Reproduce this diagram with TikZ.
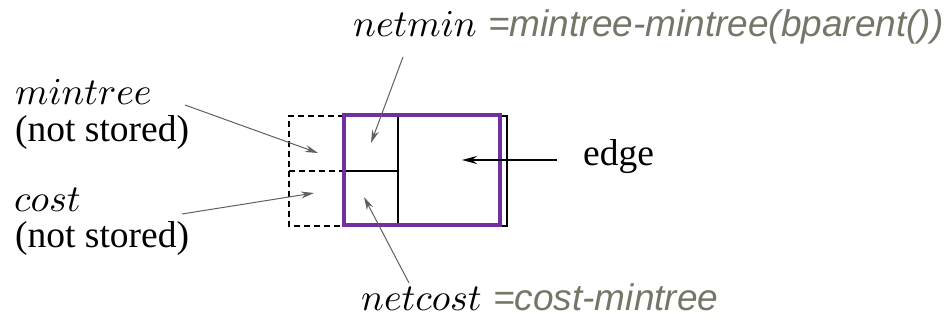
\documentclass[tikz,border=0pt]{standalone}
\usepackage{fontspec}
\DeclareFontShape{OML}{cmm}{m}{it}{<->cmmi10}{}
\newfontfamily\serifT{Liberation Serif}
\newfontfamily\sansA{Liberation Sans}
\usetikzlibrary{arrows.meta}
\definecolor{boxpurple}{RGB}{112,48,160}
\definecolor{notegray}{RGB}{118,118,104}
\definecolor{arrowgray}{RGB}{95,95,95}
\begin{document}
\begin{tikzpicture}[x=1pt,y=-1pt,
  lbl/.style={inner sep=0pt, anchor=base west, font=\fontsize{38}{45}\selectfont},
  serlbl/.style={lbl, font=\fontsize{37.5}{45}\selectfont\serifT},
  notelbl/.style={lbl, text=notegray, font=\fontsize{37}{44}\selectfont\sansA\itshape},
  garrow/.style={draw=arrowgray, line width=1pt, -{Stealth[length=13pt,width=7pt]}},
  barrow/.style={draw=black, line width=1.6pt, -{Stealth[length=15pt,width=8pt]}},
  cellline/.style={draw=black, line width=1.3pt},
  dashline/.style={draw=black, line width=1.4pt, dash pattern=on 6pt off 4pt}]
\useasboundingbox (0,0) rectangle (946,320);

% labels
\node[lbl] (mt) at (15,105) {$mintree$};
\node[serlbl] (ns1) at (15,142) {(not stored)};
\node[lbl] (cs) at (14,212) {$cost$};
\node[serlbl] (ns2) at (15,248) {(not stored)};
\node[lbl] (nm) at (353,37) {$netmin$};
\node[notelbl] (nmdef) at (488,37) {=mintree-mintree(bparent())};
\node[lbl] (nc) at (361,311) {$netcost$};
\node[notelbl] (ncdef) at (493,311) {=cost-mintree};
\node[serlbl] (edge) at (583,166) {edge};

% cell structure
\draw[cellline] (344,116) rectangle (507,226);
\draw[cellline] (398,116) -- (398,226);
\draw[cellline] (344,171) -- (398,171);
\draw[dashline] (344,116) -- (289,116) -- (289,226) -- (344,226);
\draw[dashline] (289,171) -- (344,171);
\draw[draw=boxpurple, line width=4pt] (344,115.3) rectangle (499.7,225.3);

% arrow end points
\coordinate (mtS) at (185,105);
\coordinate (mtT) at (318,153);
\coordinate (csS) at (182,214);
\coordinate (csT) at (314,193);
\coordinate (nmS) at (403,57);
\coordinate (nmT) at (371,143);
\coordinate (ncS) at (409,283);
\coordinate (ncT) at (364,197);
\coordinate (edS) at (557,160);
\coordinate (edT) at (462,160);

\draw[garrow] (mtS) -- (mtT);
\draw[garrow] (csS) -- (csT);
\draw[garrow] (nmS) -- (nmT);
\draw[garrow] (ncS) -- (ncT);
\draw[barrow] (edS) -- (edT);
\end{tikzpicture}
\end{document}
